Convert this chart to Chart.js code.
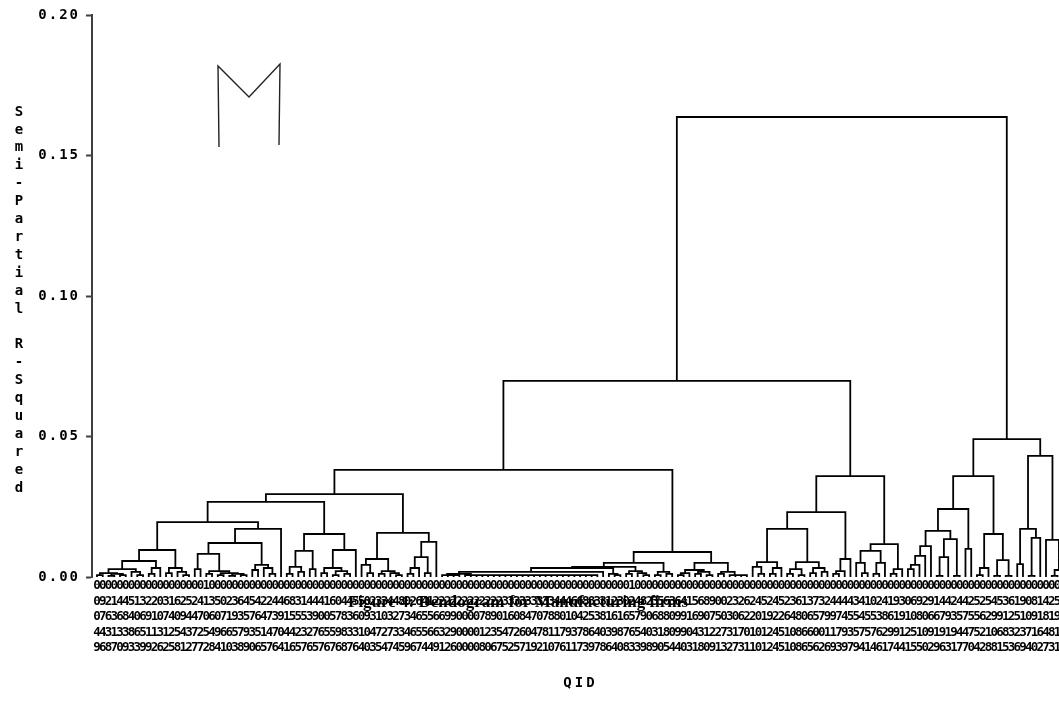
<!DOCTYPE html>
<html><head><meta charset="utf-8">
<script src="https://cdn.jsdelivr.net/npm/chart.js@4.4.1/dist/chart.umd.min.js"></script>
<style>
html,body{margin:0;padding:0;background:#fff;overflow:hidden;}
#wrap{position:relative;width:1059px;height:714px;overflow:hidden;}
canvas{display:block;}
</style></head><body>
<div id="wrap"><canvas id="c" width="1074" height="714"></canvas></div>
<script>
// ---------- text ----------
const yAxisTitle = 'Semi-Partial R-Squared';
const xAxisTitle = 'QID';
const figureTitle = 'Figure 4: Dendogram for Manufacturing firms';
const yTickValues = [0, 0.05, 0.10, 0.15, 0.20];

// ---------- QID tick labels (5 digit rows, one column per leaf) ----------
const qidRow1 = '0000000000'+'0000000001'+'0000000000'+'0000000000'+'0000000000'+'0000000000'+'0000000000'+'0000000000'+'0000000000'+'0001000000'+'0000000000'+'0000000000'+'0000000000'+'0000000000'+'0000000000'+'0000000000'+'000000000';
const qidRow2 = '0921445132'+'2031625241'+'3502364542'+'2446831444'+'1604455023'+'3448026412'+'2222222222'+'2333333333'+'4446688331'+'2302482356'+'3641568900'+'2326245245'+'2361373244'+'4434102419'+'3069291442'+'4425254536'+'190814253';
const qidRow3 = '0763684069'+'1074094470'+'6071935764'+'7391555390'+'0578360931'+'0327346556'+'6990000789'+'0160847078'+'8010425381'+'6165790688'+'0991690750'+'3062201922'+'6480657997'+'4554553861'+'9108066793'+'5755629912'+'510918190';
const qidRow4 = '4431338651'+'1312543725'+'4966579351'+'4704423276'+'5598331047'+'2733465566'+'3290000123'+'5472604781'+'1793786403'+'9876540318'+'0990431227'+'3170101245'+'1086600117'+'9357576299'+'1251091919'+'4475210683'+'237164815';
const qidRow5 = '9687093399'+'2625812772'+'8410389065'+'7641657657'+'6768764035'+'4745967449'+'1260000806'+'7525719210'+'7611739786'+'4083398905'+'4403180913'+'2731101245'+'1086562693'+'9794146174'+'4155029631'+'7704288153'+'694027318';
const qidRows = [qidRow1, qidRow2, qidRow3, qidRow4, qidRow5];

// ---------- cluster tree: [height, child, child, ...]; _ = single firm ----------
const _ = null;
const grpA1a = [0.0195,
  [0.0096,
    [0.0057,
      [0.0028,
        [0.0014, [0.0007, _, _], [0.0011, [0.0004, _, _], [0.0007, _, _]]],
        [0.0018, _, [0.0007, _, _]]],
      [0.0032, [0.0011, _, _], _]],
    [0.0032, [0.0014, _, _], [0.0018, _, [0.0007, _, _]]]],
  [0.0171,
    [0.0121,
      [0.0082,
        [0.0028, _, _],
        [0.0021, [0.0011, _, _], [0.0014, [0.0007, _, _], [0.0011, [0.0004, _, _], [0.0007, _, _]]]]],
      [0.0043, [0.0025, _, _], [0.0032, _, [0.0011, _, _]]]],
    _]];
const grpA1b = [0.0153,
  [0.0093, [0.0036, [0.0011, _, _], [0.0018, _, _]], [0.0028, _, _]],
  [0.0096, [0.0032, [0.0014, _, _], [0.0021, [0.0007, _, _], [0.0011, _, _]]], _]];
const grpA2 = [0.0157,
  [0.0064, [0.0043, _, [0.0014, _, _]], [0.0021, [0.0011, _, _], [0.0014, _, [0.0007, _, _]]]],
  [0.0125, [0.0071, [0.0032, [0.0011, _, _], _], [0.0014, _, _]], _]];
const grpM1 = [0.005,
  [0.0036,
    [0.0032,
      [0.0018,
        [0.0011, [0.0007, _, _, _, _], [0.0007, _, _, _, _, _, _, _, _, _, _, _, _, _, _, _, _, _, _, _, _, _, _, _, _]],
        _],
      [0.0011, _, [0.0007, _, _]]],
    [0.0021, [0.0011, _, _], [0.0014, _, [0.0007, _, _]]]],
  [0.0018, [0.0007, _, _], [0.0011, _, _]]];
const grpM2 = [0.005,
  [0.0025, [0.0014, [0.0007, _, _], _], [0.0018, [0.0011, _, _], [0.0007, _, _]]],
  [0.0018, [0.0011, _, _], [0.0007, _, _, _, _]]];
const grpR1 = [0.0231,
  [0.0171,
    [0.0053, [0.0036, _, [0.0011, _, _]], [0.0032, [0.0011, _, _], _]],
    [0.0053, [0.0028, [0.0011, _, _], [0.0007, _, _]], [0.0032, [0.0014, _, _], [0.0018, _, _]]]],
  [0.0064, [0.0021, [0.0011, _, _], _], _]];
const grpR2 = [0.0117,
  [0.0093, [0.005, _, [0.0014, _, _]], [0.005, [0.0011, _, _], _]],
  [0.0028, [0.0011, _, _], _]];
const grpS1a = [0.0242,
  [0.0164,
    [0.011, [0.0075, [0.0043, [0.0028, _, _], _], _], _],
    [0.0135, [0.0071, [0.0004, _, _], _], [0.0004, _, _]]],
  [0.010, _, _]];
const grpS1b = [0.0153, [0.0032, [0.0007, _, _], _], [0.006, [0.0004, _, _], [0.0004, _, _]]];
const grpS2 = [0.0431,
  [0.0171, [0.0046, _, _], [0.0139, [0.0004, _, _], _]],
  [0.0132, _, [0.0025, [0.0004, _, _], _]]];

const clusterA = [0.0295, [0.0267, grpA1a, grpA1b], grpA2];
const clusterM = [0.0089, grpM1, grpM2];
const clusterR = [0.0359, grpR1, grpR2];
const clusterS = [0.0491, [0.0359, grpS1a, grpS1b], grpS2];
const rootTree = [0.1637, [0.0698, [0.0381, clusterA, clusterM], clusterR], clusterS];

// ---------- build segments from the tree ----------
const merges = [];
let leafCount = 0;
function place(node) {
  if (node === null) { return {x: leafCount++, h: 0}; }
  const h = node[0];
  const subs = node.slice(1).map(place);
  let right = subs[subs.length - 1];
  for (let k = subs.length - 2; k >= 0; k--) {
    const left = subs[k];
    merges.push([left.x, left.h, right.x, right.h, h]);
    right = {x: (left.x + right.x) / 2, h: h};
  }
  return right;
}
place(rootTree);
const leafIndex = Array.from({length: leafCount}, (v, i) => i);
const segPoints = [];
merges.forEach(m => {
  segPoints.push({x: m[0], y: m[1]}, {x: m[0], y: m[4]}, {x: m[2], y: m[4]}, {x: m[2], y: m[3]}, {x: m[2], y: null});
});

// ---------- plugins ----------
function spaced(scale, fnName, px) {
  if (!scale || scale['__sp' + fnName]) return;
  const orig = scale[fnName].bind(scale);
  scale[fnName] = function (a) {
    const c = this.ctx; const prev = c.letterSpacing;
    c.letterSpacing = px; orig(a); c.letterSpacing = prev || '0px';
  };
  scale['__sp' + fnName] = true;
}
const decor = {
  id: 'decor',
  beforeDraw(chart) {
    spaced(chart.scales.y, 'drawLabels', '2px');
    spaced(chart.scales.x, 'drawTitle', '3px');
  },
  afterDraw(chart) {
    const ctx = chart.ctx, area = chart.chartArea;
    ctx.save();
    // stacked y-axis title
    ctx.font = 'bold 14px "DejaVu Sans Mono"';
    ctx.fillStyle = '#000'; ctx.textAlign = 'center'; ctx.textBaseline = 'middle';
    const chars = [...yAxisTitle];
    const mid = (area.top + area.bottom) / 2 + 4;
    chars.forEach((ch, k) => ctx.fillText(ch, 19, mid + (k - (chars.length - 1) / 2) * 17.9));
    // figure caption
    ctx.font = 'bold 17px "Liberation Serif"';
    ctx.textAlign = 'left'; ctx.textBaseline = 'alphabetic';
    ctx.fillText(figureTitle, 348, 607);
    // hand-drawn "M" annotation
    ctx.strokeStyle = '#222'; ctx.lineWidth = 1.4;
    ctx.beginPath();
    ctx.moveTo(219, 147); ctx.lineTo(218, 66); ctx.lineTo(249, 97); ctx.lineTo(280, 64); ctx.lineTo(279, 145);
    ctx.stroke();
    ctx.restore();
  }
};

const monoBold = (size, lh) => ({family: '"DejaVu Sans Mono", monospace', size: size, weight: 'bold', lineHeight: lh});

new Chart(document.getElementById('c'), {
  type: 'scatter',
  data: {datasets: [{
    data: segPoints, showLine: true, spanGaps: false, fill: false,
    borderColor: '#000', borderWidth: 1.8, pointRadius: 0, pointHoverRadius: 0,
    tension: 0
  }]},
  options: {
    responsive: false, animation: false,
    layout: {padding: {top: 15, left: 0, right: 5, bottom: 0}},
    plugins: {legend: {display: false}, tooltip: {enabled: false}},
    scales: {
      x: {
        type: 'linear', min: -0.87, max: 169,
        grid: {display: false, drawTicks: false},
        border: {display: false},
        afterBuildTicks: s => { s.ticks = leafIndex.map(i => ({value: i})); },
        afterFit: s => { s.height = 137; },
        ticks: {
          autoSkip: false, maxRotation: 0, minRotation: 0, padding: 1, color: '#000',
          font: monoBold(12.5, '15.5px'),
          callback: v => { const i = Math.round(v); return qidRows.map(r => r[i] || ''); }
        },
        title: {display: true, text: xAxisTitle, color: '#000', font: monoBold(14, 1.2), padding: {top: 0, bottom: 22}}
      },
      y: {
        min: 0, max: 0.2,
        afterBuildTicks: s => { s.ticks = yTickValues.map(v => ({value: v})); },
        afterFit: s => { s.width = 92; },
        grid: {drawOnChartArea: false, drawTicks: true, tickLength: 6, color: '#404040', tickWidth: 2},
        border: {display: true, color: '#404040', width: 2},
        ticks: {padding: 6, color: '#000', font: monoBold(14, 1.2), callback: v => v.toFixed(2)}
      }
    }
  },
  plugins: [decor]
});
</script></body></html>
